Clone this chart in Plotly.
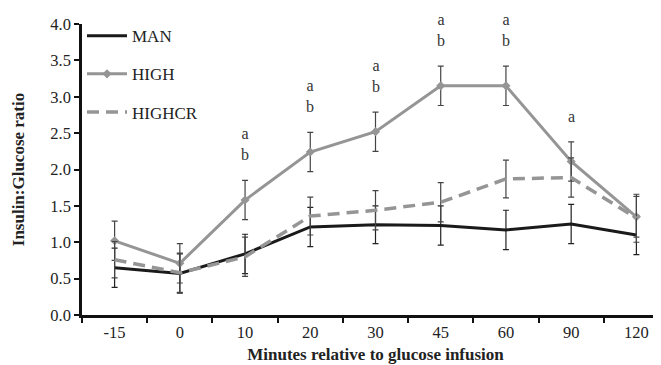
import plotly.graph_objects as go

categories = ["-15", "0", "10", "20", "30", "45", "60", "90", "120"]

man_mean = [0.65, 0.57, 0.84, 1.21, 1.24, 1.23, 1.17, 1.25, 1.10]
man_err = [0.27, 0.27, 0.27, 0.27, 0.26, 0.27, 0.27, 0.27, 0.27]

high_mean = [1.02, 0.71, 1.58, 2.24, 2.52, 3.15, 3.15, 2.11, 1.35]
high_err = [0.27, 0.27, 0.27, 0.27, 0.27, 0.27, 0.27, 0.27, 0.28]

highcr_mean = [0.76, 0.58, 0.80, 1.36, 1.44, 1.55, 1.87, 1.89, 1.33]
highcr_err = [0.25, 0.27, 0.27, 0.26, 0.27, 0.27, 0.26, 0.27, 0.33]

sig_labels = ["", "", "a<br>b", "a<br>b", "a<br>b", "a<br>b", "a<br>b", "a", ""]

y_ticks = [0.0, 0.5, 1.0, 1.5, 2.0, 2.5, 3.0, 3.5, 4.0]

SERIF = "Liberation Serif"
GRAY = "#959595"
TXT = "#222222"

fig = go.Figure()

fig.add_trace(go.Scatter(
    x=categories, y=man_mean, name="MAN", mode="lines",
    line=dict(color="#1a1a1a", width=3),
    error_y=dict(type="data", array=man_err, color="#222222", thickness=1.2, width=3),
    legendgroup="g1",
))
fig.add_trace(go.Scatter(
    x=categories, y=high_mean, name="HIGH", mode="lines+markers",
    line=dict(color=GRAY, width=3),
    marker=dict(symbol="diamond", size=7, color=GRAY),
    error_y=dict(type="data", array=high_err, color="#444444", thickness=1.2, width=3),
    legendgroup="g2",
))
fig.add_trace(go.Scatter(
    x=categories, y=highcr_mean, name="HIGHCR", mode="lines",
    line=dict(color=GRAY, width=3.5, dash="12px,7px"),
    error_y=dict(type="data", array=highcr_err, color="#444444", thickness=1.2, width=3),
    legendgroup="g3",
))

for i, (m, e, lab) in enumerate(zip(high_mean, high_err, sig_labels)):
    if lab:
        fig.add_annotation(
            x=i, y=m + e, xref="x", yref="y", text=lab, showarrow=False,
            yanchor="bottom", xanchor="center", yshift=15,
            font=dict(family=SERIF, size=16, color="#333333"),
        )

fig.update_layout(
    width=661, height=365,
    margin=dict(l=74, r=0, t=16, b=58),
    paper_bgcolor="white", plot_bgcolor="white",
    font=dict(family=SERIF, size=16, color=TXT),
    showlegend=True,
    legend=dict(
        x=0.0, y=1.02, xanchor="left", yanchor="top",
        bgcolor="rgba(0,0,0,0)", tracegroupgap=13, itemwidth=40,
        font=dict(family=SERIF, size=17, color=TXT),
    ),
    xaxis=dict(
        type="category", categoryorder="array", categoryarray=categories,
        range=[-0.5, 8.5],
        showline=True, linecolor="#111111", linewidth=2.5,
        ticks="outside", tickson="boundaries", ticklen=5, tickwidth=2, tickcolor="#111111",
        showgrid=False, zeroline=False,
        tickfont=dict(family=SERIF, size=16.5, color=TXT),
        title=dict(text="<b>Minutes relative to glucose infusion</b>",
                   font=dict(family=SERIF, size=17, color=TXT), standoff=8),
    ),
    yaxis=dict(
        range=[0, 4], tickvals=y_ticks, ticktext=[f"{v:.1f}" for v in y_ticks],
        showline=True, linecolor="#111111", linewidth=2.5,
        ticks="outside", ticklen=5, tickwidth=2, tickcolor="#111111",
        showgrid=False, zeroline=False,
        tickfont=dict(family=SERIF, size=16.5, color=TXT),
        title=dict(text="<b>Insulin:Glucose ratio</b>",
                   font=dict(family=SERIF, size=17, color=TXT), standoff=22),
    ),
)

fig.write_html("out.html")
